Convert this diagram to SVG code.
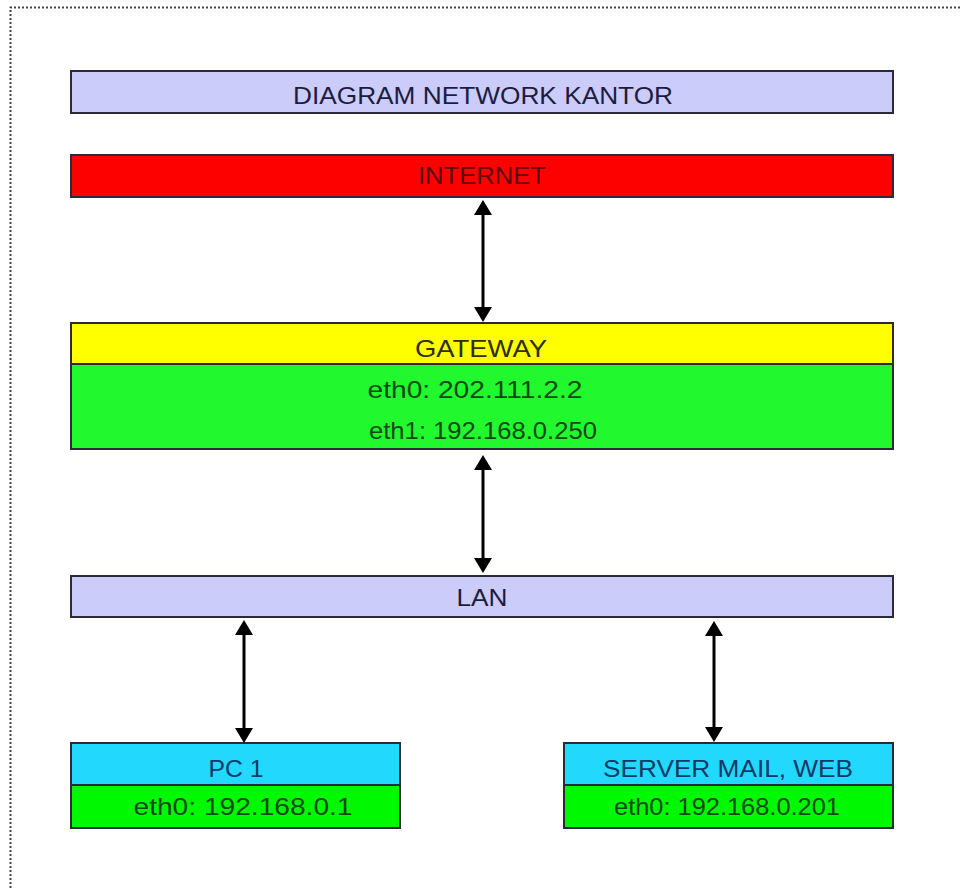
<svg xmlns="http://www.w3.org/2000/svg" width="960" height="888" viewBox="0 0 960 888">
<style>
  .bx{stroke:#2a2a3a;stroke-width:2}
  text{font-family:"Liberation Sans",Arial,sans-serif;font-size:24px;text-anchor:middle}
  .t-title{fill:#1c1c40}
  .t-red{fill:#5a0a0a}
  .t-yel{fill:#2e2e10}
  .t-grn{fill:#0b4a10}
  .t-cyan{fill:#0d3a66}
  .conn{stroke:#000;stroke-width:3;fill:none;marker-start:url(#ah);marker-end:url(#ah)}
</style>
<defs>
  <marker id="ah" markerUnits="userSpaceOnUse" markerWidth="16" markerHeight="18" refX="5" refY="9" orient="auto-start-reverse" viewBox="0 0 16 18">
    <path d="M0,0 L15,9 L0,18 z" fill="#000"/>
  </marker>
</defs>
<rect x="0" y="0" width="960" height="888" fill="#fff"/>
<path d="M10.5,888 V7.5 H960" fill="none" stroke="#444" stroke-width="2" stroke-dasharray="2,2"/>

<g id="title">
  <rect class="bx" x="71" y="71" width="822" height="42" fill="#ccccfa"/>
  <text class="t-title" x="483" y="104" textLength="380" lengthAdjust="spacingAndGlyphs">DIAGRAM NETWORK KANTOR</text>
</g>
<g id="internet">
  <rect class="bx" x="71" y="155" width="822" height="42" fill="#fd0000"/>
  <text class="t-red" x="482" y="184" textLength="128" lengthAdjust="spacingAndGlyphs">INTERNET</text>
</g>
<g id="gateway">
  <rect class="bx" x="71" y="323" width="822" height="41" fill="#ffff00"/>
  <rect class="bx" x="71" y="364" width="822" height="85" fill="#22f82e"/>
  <text class="t-yel" x="481" y="357" textLength="132" lengthAdjust="spacingAndGlyphs">GATEWAY</text>
  <text class="t-grn" x="475" y="398" textLength="215" lengthAdjust="spacingAndGlyphs">eth0: 202.111.2.2</text>
  <text class="t-grn" x="483" y="439" textLength="228" lengthAdjust="spacingAndGlyphs">eth1: 192.168.0.250</text>
</g>
<g id="lan">
  <rect class="bx" x="71" y="576" width="822" height="41" fill="#ccccfa"/>
  <text class="t-title" x="482" y="606" textLength="51" lengthAdjust="spacingAndGlyphs">LAN</text>
</g>
<g id="pc1">
  <rect class="bx" x="71" y="743" width="329" height="42" fill="#22d8fd"/>
  <rect class="bx" x="71" y="785" width="329" height="43" fill="#00f800"/>
  <text class="t-cyan" x="236" y="777" textLength="55" lengthAdjust="spacingAndGlyphs">PC 1</text>
  <text class="t-grn" x="243" y="815" textLength="219" lengthAdjust="spacingAndGlyphs">eth0: 192.168.0.1</text>
</g>
<g id="server">
  <rect class="bx" x="564" y="743" width="329" height="42" fill="#22d8fd"/>
  <rect class="bx" x="564" y="785" width="329" height="43" fill="#00f800"/>
  <text class="t-cyan" x="728" y="777" textLength="250" lengthAdjust="spacingAndGlyphs">SERVER MAIL, WEB</text>
  <text class="t-grn" x="727" y="815" textLength="226" lengthAdjust="spacingAndGlyphs">eth0: 192.168.0.201</text>
</g>

<g id="connectors">
  <path class="conn" d="M483,210 V312"/>
  <path class="conn" d="M483,465 V563"/>
  <path class="conn" d="M244,630 V733"/>
  <path class="conn" d="M714,631 V732"/>
</g>
</svg>
